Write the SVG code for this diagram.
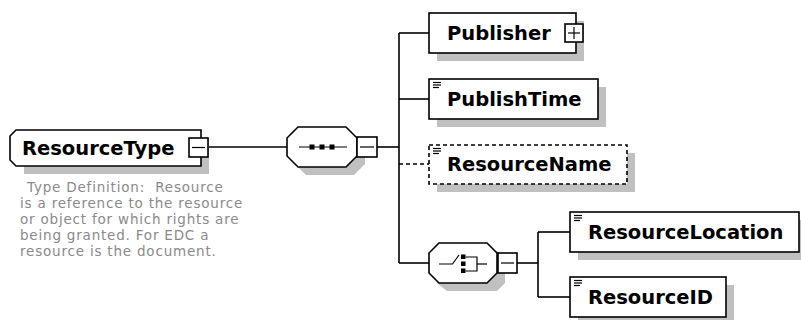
<svg xmlns="http://www.w3.org/2000/svg" width="801" height="320" viewBox="0 0 801 320">
<defs>
<style>
.shadow{fill:#c0c0c0;stroke:none}
.box{fill:#fff;stroke:#000;stroke-width:1.6}
.dash{fill:#fff;stroke:#000;stroke-width:1.6;stroke-dasharray:4 3}
.lbl{font-family:"DejaVu Sans",Verdana,sans-serif;font-weight:bold;font-size:19.5px;fill:#000}
.desc{font-family:"DejaVu Sans",Verdana,sans-serif;font-size:13.5px;letter-spacing:0.8px;fill:#8a8a8a}
.ln{stroke:#000;stroke-width:1.6;fill:none}
.lnd{stroke:#000;stroke-width:1.6;fill:none;stroke-dasharray:4 3}
.ic{stroke:#000;stroke-width:1.2;fill:none}
.sq{fill:#000}
.tg{fill:#fff;stroke:#000;stroke-width:1.6}
</style>
</defs>

<g id="connectors">
<line class="ln" x1="208" y1="147" x2="287" y2="147"/>
<line class="ln" x1="377" y1="147" x2="399" y2="147"/>
<line class="ln" x1="399" y1="33" x2="399" y2="263"/>
<line class="ln" x1="399" y1="33" x2="429" y2="33"/>
<line class="ln" x1="399" y1="99" x2="429" y2="99"/>
<line class="lnd" x1="399" y1="164" x2="429" y2="164"/>
<line class="ln" x1="399" y1="263" x2="429" y2="263"/>
<line class="ln" x1="517" y1="263" x2="538" y2="263"/>
<line class="ln" x1="538" y1="232" x2="538" y2="297"/>
<line class="ln" x1="538" y1="232" x2="570" y2="232"/>
<line class="ln" x1="538" y1="297" x2="570" y2="297"/>
</g>

<g id="ResourceType">
<path class="shadow" d="M24,138 H209 V174 H24 Z"/>
<path class="box" d="M16,130 H201 V166 H16 L10,160 V136 Z"/>
<text class="lbl" x="22" y="155">ResourceType</text>
<rect class="tg" x="189" y="138" width="19" height="19"/>
<line class="ic" x1="192" y1="147.5" x2="205" y2="147.5"/>
</g>

<g id="ResourceTypeDescription">
<text class="desc" x="27" y="192" xml:space="preserve">Type Definition:  Resource</text>
<text class="desc" x="20" y="208">is a reference to the resource</text>
<text class="desc" x="20" y="224">or object for which rights are</text>
<text class="desc" x="20" y="240">being granted. For EDC a</text>
<text class="desc" x="20" y="256">resource is the document.</text>
</g>

<g id="sequence">
<polygon class="shadow" points="306,135 354,135 365,146 365,164 354,175 306,175 295,164 295,146"/>
<polygon class="box" points="298,127 346,127 357,138 357,156 346,167 298,167 287,156 287,138"/>
<line class="ic" x1="299" y1="147" x2="347" y2="147"/>
<rect class="sq" x="309.5" y="144.5" width="5" height="5"/>
<rect class="sq" x="319.5" y="144.5" width="5" height="5"/>
<rect class="sq" x="329.5" y="144.5" width="5" height="5"/>
<rect class="tg" x="357" y="137" width="20" height="20"/>
<line class="ic" x1="360" y1="147" x2="374" y2="147"/>
</g>

<g id="Publisher">
<rect class="shadow" x="437" y="21" width="147" height="40"/>
<rect class="box" x="429" y="13" width="147" height="40"/>
<text class="lbl" x="447" y="40">Publisher</text>
<rect class="tg" x="565" y="24" width="18" height="18"/>
<line class="ic" x1="568" y1="33" x2="580" y2="33"/>
<line class="ic" x1="574" y1="27" x2="574" y2="39"/>
</g>

<g id="PublishTime">
<rect class="shadow" x="437" y="87" width="169" height="40"/>
<rect class="box" x="429" y="79" width="169" height="40"/>
<line class="ic" x1="433" y1="82.5" x2="441" y2="82.5"/>
<line class="ic" x1="433" y1="85" x2="441" y2="85"/>
<line class="ic" x1="433" y1="87.5" x2="439" y2="87.5"/>
<text class="lbl" x="447" y="106">PublishTime</text>
</g>

<g id="ResourceName">
<rect class="shadow" x="437" y="153" width="198" height="39"/>
<rect class="dash" x="429" y="145" width="198" height="39"/>
<line class="ic" x1="433" y1="148.5" x2="441" y2="148.5"/>
<line class="ic" x1="433" y1="151" x2="441" y2="151"/>
<line class="ic" x1="433" y1="153.5" x2="439" y2="153.5"/>
<text class="lbl" x="447" y="171">ResourceName</text>
</g>

<g id="choice">
<polygon class="shadow" points="447,251 497,251 505,259 505,283 497,291 447,291 437,283 437,259"/>
<polygon class="box" points="439,243 487,243 497,253 497,273 487,283 439,283 429,273 429,253"/>
<polyline class="ic" points="439,264 452.5,264 459,255"/>
<rect class="sq" x="461" y="254.5" width="4.5" height="4.5"/>
<rect class="sq" x="461" y="261.5" width="4.5" height="4.5"/>
<rect class="sq" x="461" y="268.5" width="4.5" height="4.5"/>
<polyline class="ic" points="465.5,257 477,257 477,271 465.5,271"/>
<line class="ic" x1="477" y1="264" x2="487" y2="264"/>
<rect class="tg" x="498" y="253" width="19" height="20"/>
<line class="ic" x1="501" y1="263" x2="514" y2="263"/>
</g>

<g id="ResourceLocation">
<rect class="shadow" x="578" y="220" width="229" height="40"/>
<rect class="box" x="570" y="212" width="229" height="40"/>
<line class="ic" x1="574" y1="215.5" x2="582" y2="215.5"/>
<line class="ic" x1="574" y1="218" x2="582" y2="218"/>
<line class="ic" x1="574" y1="220.5" x2="580" y2="220.5"/>
<text class="lbl" x="588" y="239">ResourceLocation</text>
</g>

<g id="ResourceID">
<rect class="shadow" x="578" y="285" width="156" height="40"/>
<rect class="box" x="570" y="277" width="156" height="40"/>
<line class="ic" x1="574" y1="280.5" x2="582" y2="280.5"/>
<line class="ic" x1="574" y1="283" x2="582" y2="283"/>
<line class="ic" x1="574" y1="285.5" x2="580" y2="285.5"/>
<text class="lbl" x="588" y="304">ResourceID</text>
</g>
</svg>
